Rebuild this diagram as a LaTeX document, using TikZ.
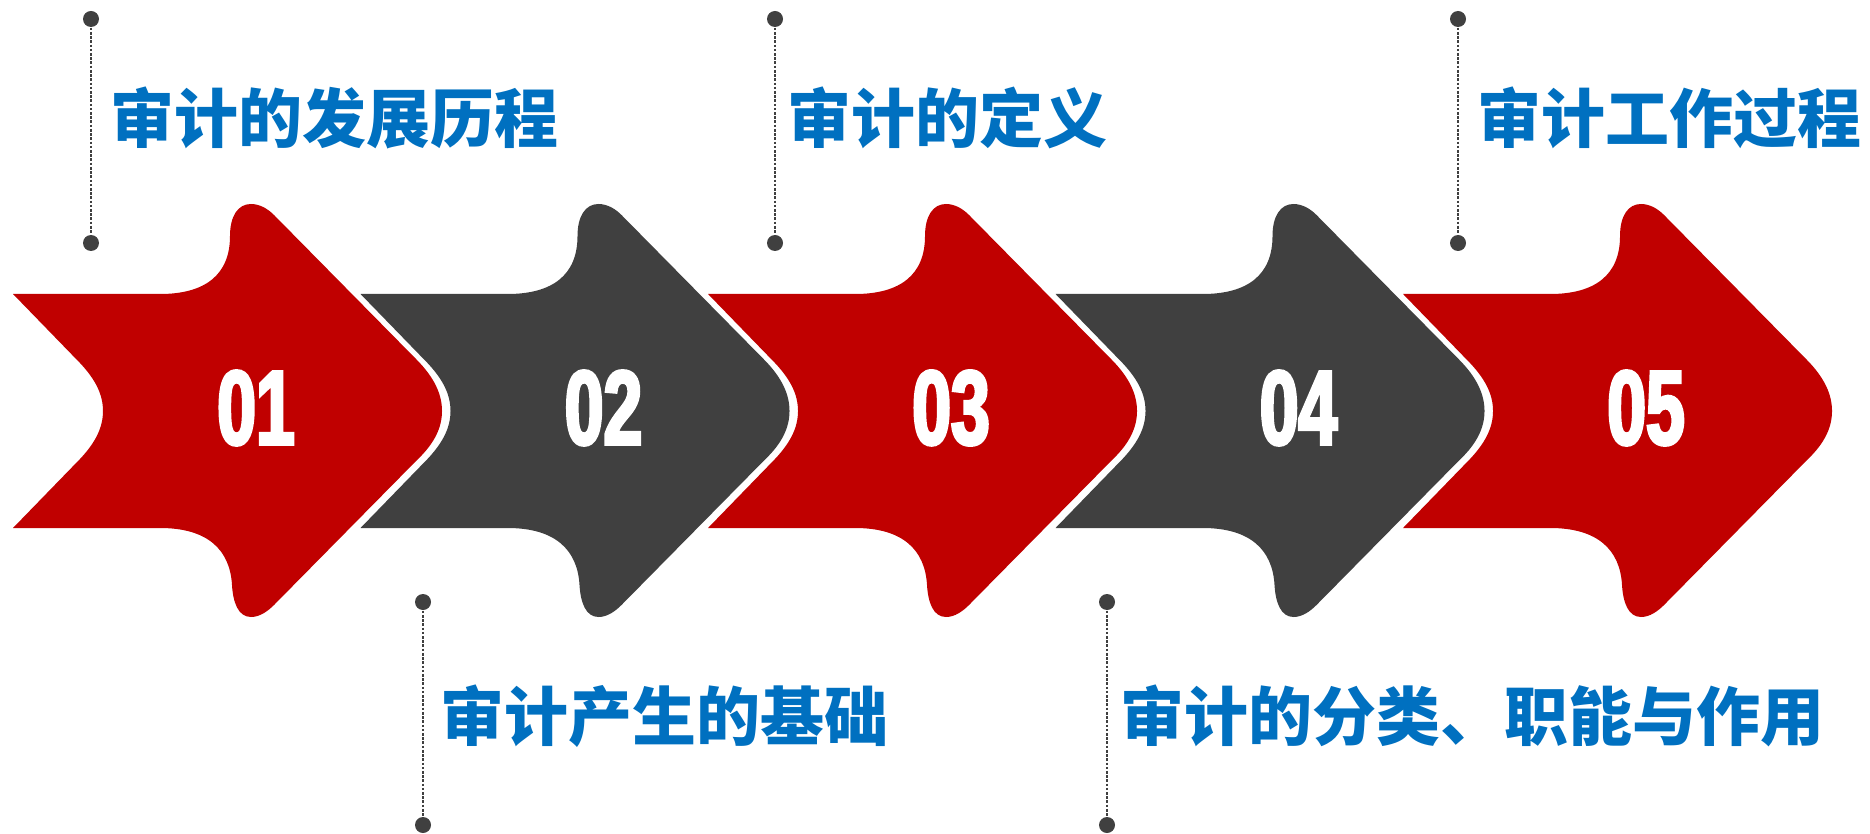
\documentclass[tikz,border=0pt]{standalone}
\usepackage{fontspec}
\usepackage{xcolor}
\usepackage{tikz}
\usetikzlibrary{positioning}
\newfontfamily\cjk{Noto Sans CJK SC}
\newfontfamily\numfont{Liberation Sans}[FakeStretch=0.66, FakeBold=3]
\definecolor{audred}{HTML}{C00000}
\definecolor{audgray}{HTML}{404040}
\definecolor{audblue}{HTML}{0070C0}

\begin{document}
\begin{tikzpicture}[x=0.1mm, y=-0.1mm,
  num/.style={text=white, font=\numfont\bfseries\fontsize{30}{30}\selectfont, inner sep=0pt},
  ttl/.style={text=audblue, font=\cjk\bfseries\fontsize{18.2}{20}\selectfont, inner sep=0pt, anchor=west},
  dot/.style={circle, fill=audgray, inner sep=0pt, minimum size=1.6mm},
  leader/.style={audgray, line width=0.8pt, dash pattern=on 0.75pt off 0.45pt}]
  \useasboundingbox (0,0) rectangle (1870,834);
  % ---- arrows ----
  \foreach \i/\x/\col in {1/13/audred, 2/360.5/audgray, 3/708/audred, 4/1055.5/audgray, 5/1403/audred} {
    \begin{scope}[shift={(\x,0)}]
      \fill[\col] (0,294) -- (147,294) .. controls (192,294) and (217,275) .. (217,236)
        .. controls (217,216) and (225,204) .. (238,204) .. controls (247,204) and (255,209) .. (261,215)
        -- (403,359) .. controls (422,378) and (429,395) .. (429,411) .. controls (429,427) and (422,443) .. (404,460)
        -- (261,605) .. controls (255,611) and (247,617) .. (238,617) .. controls (225,617) and (220,602) .. (219,585)
        .. controls (217,550) and (195,528) .. (147,528) -- (0,528) -- (67,459)
        .. controls (82,443) and (90,428) .. (90,411) .. controls (90,394) and (82,379) .. (67,363) -- cycle;
      \node[num] (n\i) at (243,408) {0\i};
    \end{scope}
  }
  % ---- leaders and titles ----
  \foreach \i/\x/\lx/\ya/\yb/\yt/\txt in {1/91/113/19/243/118/审计的发展历程, 2/423/443/602/825/716/审计产生的基础,
      3/775/790/19/243/118/审计的定义, 4/1107/1123/602/825/716/审计的分类、职能与作用, 5/1458/1480/19/243/118/审计工作过程} {
    \node[dot] (t\i) at (\x,\ya) {};
    \node[dot] (b\i) at (\x,\yb) {};
    \draw[leader] (t\i) -- (b\i);
    \node[ttl] (l\i) at (\lx-3,\yt) {\txt};
  }
\end{tikzpicture}
\end{document}
